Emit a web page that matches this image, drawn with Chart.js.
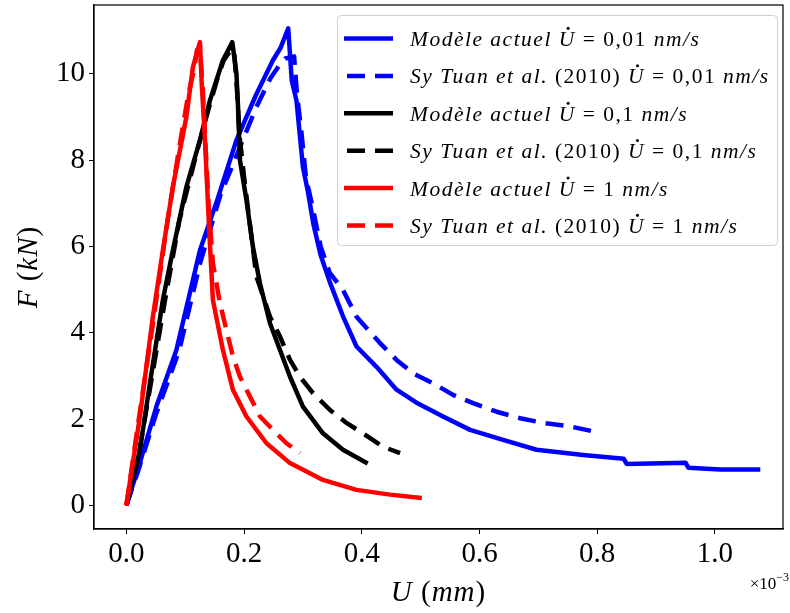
<!DOCTYPE html>
<html>
<head>
<meta charset="utf-8">
<script src="https://cdn.jsdelivr.net/npm/chart.js@4.4.1/dist/chart.umd.min.js"></script>
<style>
  html, body { margin: 0; padding: 0; background: #fff; overflow: hidden; }
  canvas { display: block; }
</style>
</head>
<body>
<canvas id="chart" width="790" height="613"></canvas>
<script>
// ── Data (x in 1e-3 mm, y in kN) ──────────────────────────────────────────────
const X_TICKS = [0, 0.2, 0.4, 0.6, 0.8, 1.0];
const Y_TICKS = [0, 2, 4, 6, 8, 10];

const MODEL_001 = [[0,0],[0.023,0.99],[0.051,2.29],[0.085,3.6],[0.125,5.91],[0.155,7.1],[0.187,8.46],
  [0.22,9.5],[0.249,10.31],[0.262,10.6],[0.275,11.05],[0.281,9.84],[0.289,9.38],[0.3,7.83],[0.308,7.3],
  [0.318,6.5],[0.33,5.8],[0.346,5.16],[0.368,4.38],[0.391,3.68],[0.425,3.21],[0.459,2.68],[0.493,2.38],
  [0.538,2.06],[0.584,1.75],[0.64,1.52],[0.697,1.29],[0.776,1.17],[0.845,1.08],[0.85,0.96],[0.95,0.99],
  [0.955,0.87],[1.009,0.83],[1.077,0.83]];
const SYTUAN_001 = [[0,0],[0.02,0.8],[0.05,2.1],[0.09,3.6],[0.125,5.6],[0.16,7.2],[0.19,8.2],[0.22,9.2],
  [0.245,9.9],[0.26,10.2],[0.27,10.35],[0.285,10.4],[0.29,9.5],[0.297,8.7],[0.305,7.6],[0.318,6.8],
  [0.33,6.0],[0.345,5.4],[0.368,4.99],[0.391,4.37],[0.431,3.76],[0.459,3.37],[0.487,3.06],[0.521,2.83],
  [0.555,2.56],[0.589,2.37],[0.629,2.17],[0.669,2.02],[0.709,1.91],[0.754,1.83],[0.795,1.71]];
const MODEL_01 = [[0,0],[0.023,1.29],[0.04,2.83],[0.062,4.76],[0.079,5.91],[0.102,7.38],[0.125,8.46],
  [0.142,9.38],[0.164,10.31],[0.18,10.73],[0.187,10.0],[0.19,9.15],[0.193,7.99],[0.204,7.07],[0.215,5.99],
  [0.227,5.14],[0.244,4.22],[0.261,3.6],[0.278,2.98],[0.3,2.29],[0.334,1.67],[0.368,1.29],[0.41,0.97]];
const SYTUAN_01 = [[0,0],[0.02,1.1],[0.04,2.7],[0.065,4.7],[0.09,6.6],[0.12,8.2],[0.14,9.2],[0.155,9.9],
  [0.165,10.3],[0.175,10.5],[0.183,10.55],[0.188,9.6],[0.192,8.6],[0.2,7.6],[0.21,6.5],[0.221,5.3],
  [0.244,4.37],[0.261,3.91],[0.278,3.37],[0.295,2.98],[0.317,2.6],[0.346,2.21],[0.374,1.91],[0.402,1.67],
  [0.436,1.36],[0.465,1.21]];
const MODEL_1 = [[0,0],[0.023,2.06],[0.045,4.37],[0.062,5.91],[0.079,7.38],[0.102,9.0],[0.113,10.15],
  [0.125,10.73],[0.128,9.77],[0.133,8.61],[0.137,7.46],[0.141,6.3],[0.147,4.76],[0.164,3.6],[0.181,2.68],
  [0.204,2.06],[0.238,1.44],[0.278,0.98],[0.334,0.59],[0.391,0.36],[0.448,0.25],[0.502,0.17]];
const SYTUAN_1 = [[0,0],[0.02,1.9],[0.045,4.2],[0.07,6.6],[0.09,8.3],[0.105,9.5],[0.115,10.1],[0.12,10.55],
  [0.125,10.6],[0.13,9.6],[0.135,8.2],[0.14,6.9],[0.147,5.61],[0.159,4.68],[0.17,4.06],[0.181,3.45],
  [0.193,2.98],[0.21,2.52],[0.227,2.06],[0.249,1.75],[0.272,1.44],[0.295,1.21]];

// text between * * is drawn in italic (math mode look)
const LABELS = [
  '*Modèle actuel* *U̇* = 0,01 *nm/s*',
  '*Sy Tuan et al.* (2010) *U̇* = 0,01 *nm/s*',
  '*Modèle actuel* *U̇* = 0,1 *nm/s*',
  '*Sy Tuan et al.* (2010) *U̇* = 0,1 *nm/s*',
  '*Modèle actuel* *U̇* = 1 *nm/s*',
  '*Sy Tuan et al.* (2010) *U̇* = 1 *nm/s*'
];
const X_TITLE = '*U* (*mm*)';
const Y_TITLE = '*F* (*kN*)';

// ── Styling ───────────────────────────────────────────────────────────────────
const FONT = '"Liberation Serif", "DejaVu Serif", serif';
const LW = 4.5;
const DASH = [18, 10];
const SERIES = [
  { data: MODEL_001,  color: '#0000ff', dash: [] },
  { data: SYTUAN_001, color: '#0000ff', dash: DASH },
  { data: MODEL_01,   color: '#000000', dash: [] },
  { data: SYTUAN_01,  color: '#000000', dash: DASH },
  { data: MODEL_1,    color: '#ff0000', dash: [] },
  { data: SYTUAN_1,   color: '#ff0000', dash: DASH }
];

function drawMath(ctx, str, x, y, size, spacing) {
  ctx.letterSpacing = (spacing || 0) + 'px';
  str.split('*').forEach(function(t, i) {
    if (!t) return;
    var italic = i % 2 === 1;
    var dot = t.indexOf('\u0307') !== -1;
    var s = t.replace('\u0307', '');
    ctx.font = (italic ? 'italic ' : '') + size + 'px ' + FONT;
    ctx.fillText(s, x, y);
    var w = ctx.measureText(s).width;
    if (dot) {
      ctx.beginPath();
      ctx.arc(x + w * 0.55, y - size * 0.82, size * 0.07, 0, Math.PI * 2);
      ctx.fill();
    }
    x += w;
  });
  ctx.letterSpacing = '0px';
}
function mathWidth(ctx, str, size, spacing) {
  var w = 0;
  ctx.letterSpacing = (spacing || 0) + 'px';
  str.split('*').forEach(function(t, i) {
    if (!t) return;
    ctx.font = (i % 2 === 1 ? 'italic ' : '') + size + 'px ' + FONT;
    w += ctx.measureText(t.replace('\u0307', '')).width;
  });
  ctx.letterSpacing = '0px';
  return w;
}

var decorations = {
  id: 'decorations',
  afterDraw: function(chart) {
    var ctx = chart.ctx, a = chart.chartArea;
    ctx.save();
    // top / right spines
    ctx.strokeStyle = '#000';
    ctx.lineWidth = 1.2;
    ctx.setLineDash([]);
    ctx.strokeRect(a.left, a.top, a.right - a.left, a.bottom - a.top);

    // axis titles
    ctx.fillStyle = '#000';
    ctx.textBaseline = 'alphabetic';
    var tw = mathWidth(ctx, X_TITLE, 29, 1);
    drawMath(ctx, X_TITLE, (a.left + a.right) / 2 - tw / 2, 601, 29, 1);
    ctx.save();
    ctx.translate(37, (a.top + a.bottom) / 2);
    ctx.rotate(-Math.PI / 2);
    tw = mathWidth(ctx, Y_TITLE, 29, 1);
    drawMath(ctx, Y_TITLE, -tw / 2, 0, 29, 1);
    ctx.restore();

    // offset text, right-aligned at the axis end
    ctx.font = '12px ' + FONT;
    var supW = ctx.measureText('−3').width;
    ctx.textAlign = 'right';
    ctx.fillText('−3', 789, 581);
    ctx.font = '17px ' + FONT;
    ctx.fillText('×10', 789 - supW, 589);
    ctx.textAlign = 'left';

    // legend
    var bx = 337.5, by = 15.5, bw = 440, bh = 230, r = 4;
    ctx.beginPath();
    ctx.moveTo(bx + r, by);
    ctx.arcTo(bx + bw, by, bx + bw, by + bh, r);
    ctx.arcTo(bx + bw, by + bh, bx, by + bh, r);
    ctx.arcTo(bx, by + bh, bx, by, r);
    ctx.arcTo(bx, by, bx + bw, by, r);
    ctx.closePath();
    ctx.fillStyle = 'rgba(255,255,255,0.8)';
    ctx.fill();
    ctx.strokeStyle = '#d0d0d0';
    ctx.lineWidth = 1;
    ctx.stroke();

    LABELS.forEach(function(lab, i) {
      var cy = 38.5 + i * 37.4;
      var s = SERIES[i];
      ctx.beginPath();
      ctx.strokeStyle = s.color;
      ctx.lineWidth = LW;
      ctx.setLineDash(s.dash);
      ctx.moveTo(s.dash.length ? 347 : 344, cy);
      ctx.lineTo(393, cy);
      ctx.stroke();
      ctx.setLineDash([]);
      ctx.fillStyle = '#000';
      drawMath(ctx, lab, 410, cy + 7.5, 21.5, 1.5);
    });
    ctx.restore();
  }
};

function noPad(s) {
  s.paddingTop = 0; s.paddingBottom = 0; s.paddingLeft = 0; s.paddingRight = 0;
}

new Chart(document.getElementById('chart'), {
  type: 'scatter',
  plugins: [decorations],
  data: {
    datasets: SERIES.map(function(s, i) {
      return {
        label: LABELS[i],
        data: s.data.map(function(p) { return { x: p[0], y: p[1] }; }),
        showLine: true,
        borderColor: s.color,
        backgroundColor: s.color,
        borderWidth: LW,
        borderDash: s.dash,
        borderCapStyle: 'butt',
        borderJoinStyle: 'round',
        pointRadius: 0,
        tension: 0,
        order: SERIES.length - i
      };
    })
  },
  options: {
    responsive: false,
    animation: false,
    devicePixelRatio: 1,
    layout: { padding: { top: 5, right: 7, left: 0, bottom: 0 } },
    plugins: { legend: { display: false }, tooltip: { enabled: false } },
    scales: {
      x: {
        type: 'linear',
        min: -0.055,
        max: 1.1156,
        afterBuildTicks: function(s) { s.ticks = X_TICKS.map(function(v) { return { value: v }; }); },
        afterFit: function(s) { s.height = 84; noPad(s); },
        ticks: {
          color: '#000',
          padding: 3,
          maxRotation: 0,
          font: { family: FONT, size: 29 },
          callback: function(v) { return v.toFixed(1); }
        },
        grid: { drawOnChartArea: false, drawTicks: true, tickLength: 5, color: '#000' },
        border: { display: true, color: '#000', width: 1.2 }
      },
      y: {
        type: 'linear',
        min: -0.546,
        max: 11.59,
        afterBuildTicks: function(s) { s.ticks = Y_TICKS.map(function(v) { return { value: v }; }); },
        afterFit: function(s) { s.width = 94; noPad(s); },
        ticks: {
          color: '#000',
          padding: 4,
          font: { family: FONT, size: 29 },
          callback: function(v) { return String(v); }
        },
        grid: { drawOnChartArea: false, drawTicks: true, tickLength: 5, color: '#000' },
        border: { display: true, color: '#000', width: 1.2 }
      }
    }
  }
});
</script>
</body>
</html>
